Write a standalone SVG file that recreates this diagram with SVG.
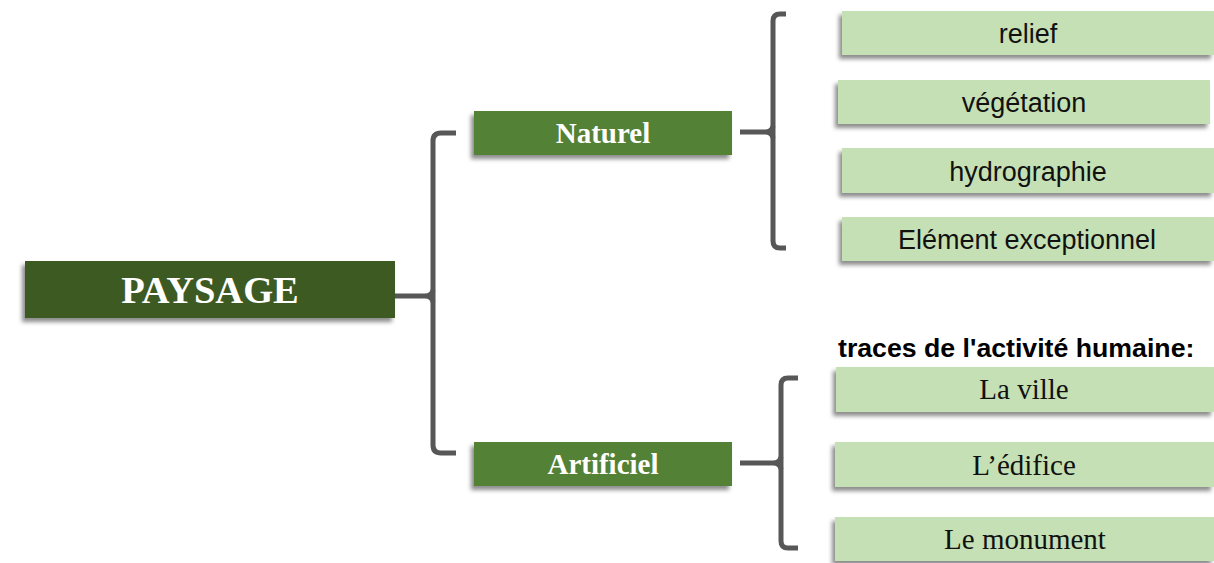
<svg xmlns="http://www.w3.org/2000/svg" width="1214" height="563" viewBox="0 0 1214 563">
  <defs>
    <filter id="shadow" x="-10%" y="-30%" width="120%" height="170%">
      <feDropShadow dx="-3" dy="4" stdDeviation="2" flood-color="#000" flood-opacity="0.45"/>
    </filter>
  </defs>
  <style>
    .root { fill: #3c5a24; filter: url(#shadow); }
    .branch { fill: #538135; filter: url(#shadow); }
    .leaf { fill: #c5e0b4; filter: url(#shadow); }
    .title { font-family: "Liberation Serif", serif; font-weight: bold; fill: #ffffff; text-anchor: middle; }
    .sans { font-family: "Liberation Sans", Arial, sans-serif; font-size: 27px; fill: #111; text-anchor: middle; }
    .serif { font-family: "Liberation Serif", serif; font-size: 29px; fill: #111; text-anchor: middle; }
    .brace { fill: none; stroke: #575757; stroke-width: 5; stroke-linejoin: round; stroke-linecap: butt; }
    .caption { font-family: "Liberation Sans", Arial, sans-serif; font-weight: bold; font-size: 26.7px; fill: #000; }
  </style>

  <!-- connectors: curly brackets, each a spine with two hooks plus a stem into its tip -->
  <g id="connectors">
    <path class="brace" d="M 456 133 L 441 133 Q 433 133 433 141 L 433 445 Q 433 453 441 453 L 456 453"/>
    <path class="brace" d="M 388 296 L 425 296 Q 432 296 433 290 M 425 296 Q 432 296 433 302"/>

    <path class="brace" d="M 786 14 L 780 14 Q 773 14 773 21 L 773 241 Q 773 248 780 248 L 786 248"/>
    <path class="brace" d="M 740 132 L 765 132 Q 772 132 773 126 M 765 132 Q 772 132 773 138"/>

    <path class="brace" d="M 798 378 L 788 378 Q 781 378 781 385 L 781 541 Q 781 548 788 548 L 798 548"/>
    <path class="brace" d="M 740 463 L 773 463 Q 780 463 781 457 M 773 463 Q 780 463 781 469"/>
  </g>

  <g id="paysage">
    <rect class="root" x="25" y="261" width="370" height="57"/>
    <text class="title" x="210" y="303" font-size="38.5">PAYSAGE</text>
  </g>

  <g id="naturel">
    <rect class="branch" x="474" y="111" width="258" height="44"/>
    <text class="title" x="603" y="143" font-size="29">Naturel</text>
  </g>

  <g id="artificiel">
    <rect class="branch" x="474" y="442" width="258" height="44"/>
    <text class="title" x="603" y="474" font-size="29">Artificiel</text>
  </g>

  <g id="relief">
    <rect class="leaf" x="842" y="11" width="372" height="44"/>
    <text class="sans" x="1028" y="43">relief</text>
  </g>

  <g id="vegetation">
    <rect class="leaf" x="838" y="80" width="372" height="44"/>
    <text class="sans" x="1024" y="112">végétation</text>
  </g>

  <g id="hydrographie">
    <rect class="leaf" x="842" y="148" width="372" height="45"/>
    <text class="sans" x="1028" y="181">hydrographie</text>
  </g>

  <g id="element-exceptionnel">
    <rect class="leaf" x="842" y="217" width="372" height="44"/>
    <text class="sans" x="1027" y="249">Elément exceptionnel</text>
  </g>

  <text class="caption" x="838" y="357">traces de l'activité humaine:</text>

  <g id="la-ville">
    <rect class="leaf" x="836" y="367" width="378" height="45"/>
    <text class="serif" x="1024" y="399">La ville</text>
  </g>

  <g id="edifice">
    <rect class="leaf" x="835" y="442" width="379" height="45"/>
    <text class="serif" x="1024" y="475">L’édifice</text>
  </g>

  <g id="monument">
    <rect class="leaf" x="835" y="517" width="379" height="44"/>
    <text class="serif" x="1025" y="549">Le monument</text>
  </g>
</svg>
